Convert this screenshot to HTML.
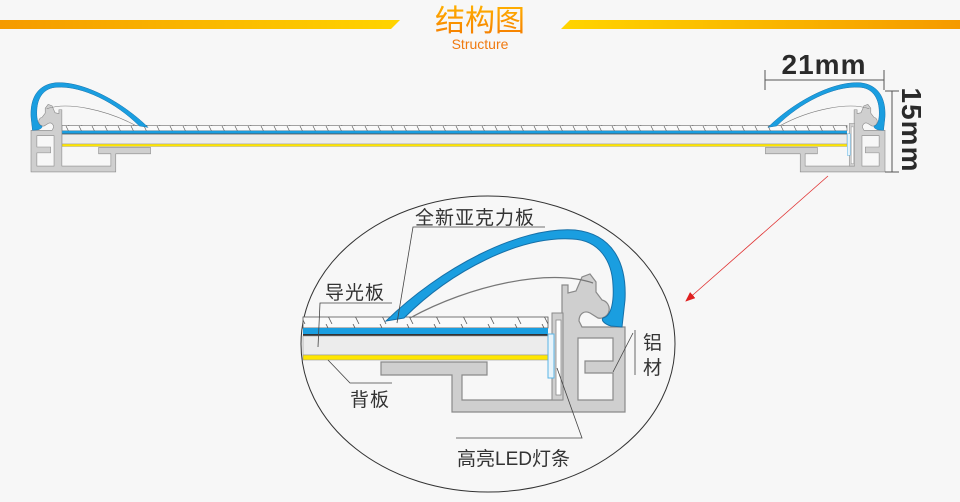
<!DOCTYPE html>
<html><head><meta charset="utf-8"><style>
html,body{margin:0;padding:0;background:#f7f7f7;}
svg{display:block;}
</style></head><body>
<svg width="960" height="502" viewBox="0 0 960 502" xmlns="http://www.w3.org/2000/svg">
<defs>
<linearGradient id="gl" x1="0" x2="1" y1="0" y2="0"><stop offset="0" stop-color="#f59a00"/><stop offset="1" stop-color="#ffd400"/></linearGradient>
<linearGradient id="gr" x1="0" x2="1" y1="0" y2="0"><stop offset="0" stop-color="#ffd400"/><stop offset="1" stop-color="#f59a00"/></linearGradient>
<linearGradient id="gt" x1="0" x2="0" y1="0" y2="1"><stop offset="0" stop-color="#ffb000"/><stop offset="1" stop-color="#f57a00"/></linearGradient>
<g id="prof">
 <path fill-rule="evenodd" fill="#cfcfcf" stroke="#8a8a8a" stroke-width="1.2" d="M381,362 H487 V375 H462 V400 H562 V285 H568 V293 L576,291 L582,277 L590,274 L596,282 L596,292 L602,300 A8.5,8.5 0 1 1 598,318 L590,313 C584,310 579,314 579,321 L582,327 H625 V412 H452 V375 H381 Z M578,338 H613 V361 H585 V373 H613 V400 H578 Z"/>
 <path d="M386,321 C440,268 520,226 575,230 C612,234 627,262 625,300 L622,327 L611,326 C604,324 601,320 603,318 C612,316 614,300 613,285 C612,262 600,240 572,239 C520,236 452,270 404,318 Z" fill="#1a9ee0" stroke="#1670a8" stroke-width="1"/>
 <path d="M410,318 C470,285 550,268 593,283" fill="none" stroke="#777" stroke-width="1.2"/>
</g>
<g id="led">
 <rect x="552" y="313" width="11" height="87" fill="#cfcfcf" stroke="#8a8a8a" stroke-width="1"/>
 <rect x="556" y="320" width="5" height="75" fill="#fff" stroke="#8a8a8a" stroke-width="0.8"/>
 <rect x="548" y="334" width="6" height="44" fill="#e8f4fb" stroke="#5ab4e6" stroke-width="1"/>
</g>
<pattern id="hatch" width="27" height="12" patternUnits="userSpaceOnUse"><line x1="2" y1="0" x2="8" y2="12" stroke="#555" stroke-width="0.8"/></pattern>
<pattern id="hatch2" width="13" height="6" patternUnits="userSpaceOnUse"><line x1="1" y1="0" x2="4" y2="6" stroke="#555" stroke-width="0.6"/></pattern>
<marker id="ah" markerWidth="10" markerHeight="8" refX="9" refY="4" orient="auto" markerUnits="userSpaceOnUse"><path d="M0,0 L10,4 L0,8 Z" fill="#e02020"/></marker>
</defs>

<polygon points="0,20 400,20 391,29 0,29" fill="url(#gl)"/>
<polygon points="570,20 960,20 960,29 561,29" fill="url(#gr)"/>
<text x="480" y="31" text-anchor="middle" font-family="Liberation Sans,'Noto Sans CJK SC',sans-serif" font-size="30" fill="url(#gt)">结构图</text>
<text x="480" y="49" text-anchor="middle" font-family="Liberation Sans,sans-serif" font-size="14" fill="#f07a10">Structure</text>

<rect x="62" y="125.4" width="785" height="5.4" fill="#fafafa" stroke="#666" stroke-width="0.6"/>
<rect x="62" y="125.4" width="785" height="5.4" fill="url(#hatch2)"/>
<rect x="62" y="130.8" width="785" height="2.8" fill="#1a9ee0"/>
<rect x="62" y="133.6" width="785" height="0.8" fill="#333"/>
<rect x="62" y="134.4" width="785" height="9.6" fill="#ececec" stroke="#999" stroke-width="0.5"/>
<rect x="62" y="144" width="785" height="2.5" fill="#ffe600" stroke="#999" stroke-width="0.4"/>
<use href="#prof" transform="matrix(0.49 0 0 0.49 578.75 -29.9)"/>
<use href="#led" transform="matrix(0.49 0 0 0.49 578.75 -29.9)"/>
<use href="#prof" transform="matrix(-0.49 0 0 0.49 337.25 -29.9)"/>

<line x1="765" y1="80" x2="884" y2="80" stroke="#555" stroke-width="1"/>
<line x1="765" y1="70" x2="765" y2="90" stroke="#555" stroke-width="1"/>
<line x1="884" y1="70" x2="884" y2="90" stroke="#555" stroke-width="1"/>
<text x="824" y="74" text-anchor="middle" font-family="Liberation Sans,sans-serif" font-weight="bold" font-size="28" fill="#2a2a2a" letter-spacing="1">21mm</text>
<line x1="892" y1="91" x2="892" y2="172" stroke="#555" stroke-width="1"/>
<line x1="885" y1="91" x2="899" y2="91" stroke="#555" stroke-width="1"/>
<line x1="885" y1="172" x2="899" y2="172" stroke="#555" stroke-width="1"/>
<text transform="translate(902,130) rotate(90)" text-anchor="middle" font-family="Liberation Sans,sans-serif" font-weight="bold" font-size="28" fill="#2a2a2a" letter-spacing="1">15mm</text>

<line x1="828" y1="176" x2="686" y2="301" stroke="#e03030" stroke-width="0.8" marker-end="url(#ah)"/>

<ellipse cx="488" cy="344" rx="187" ry="148" fill="#f7f7f7" stroke="#333" stroke-width="1"/>
<rect x="303" y="317" width="245" height="11" fill="#fafafa" stroke="#555" stroke-width="0.8"/>
<rect x="303" y="317" width="245" height="11" fill="url(#hatch)"/>
<rect x="303" y="328" width="245" height="6" fill="#1a9ee0"/>
<rect x="303" y="334" width="245" height="2" fill="#333"/>
<rect x="303" y="336" width="245" height="19" fill="#ececec" stroke="#999" stroke-width="0.6"/>
<rect x="303" y="355" width="245" height="5" fill="#ffe600" stroke="#999" stroke-width="0.6"/>
<use href="#prof"/>
<use href="#led"/>

<g font-family="Liberation Sans,'Noto Sans CJK SC',sans-serif" font-size="19" fill="#333">
<text x="415" y="224" letter-spacing="1">全新亚克力板</text>
<text x="325" y="299" letter-spacing="1">导光板</text>
<text x="350" y="406" letter-spacing="1">背板</text>
<text x="457" y="465">高亮LED灯条</text>
<text x="643" y="349">铝</text>
<text x="643" y="374">材</text>
</g>
<g stroke="#444" stroke-width="0.8" fill="none">
<polyline points="545,227 413,227 397,323"/>
<polyline points="392,303 320,303 318,347"/>
<polyline points="328,360 350,383 392,383"/>
<polyline points="456,438 582,438 557,368"/>
<line x1="635" y1="330" x2="635" y2="375"/>
<line x1="633" y1="333" x2="613" y2="372"/>
</g>
</svg>
</body></html>
